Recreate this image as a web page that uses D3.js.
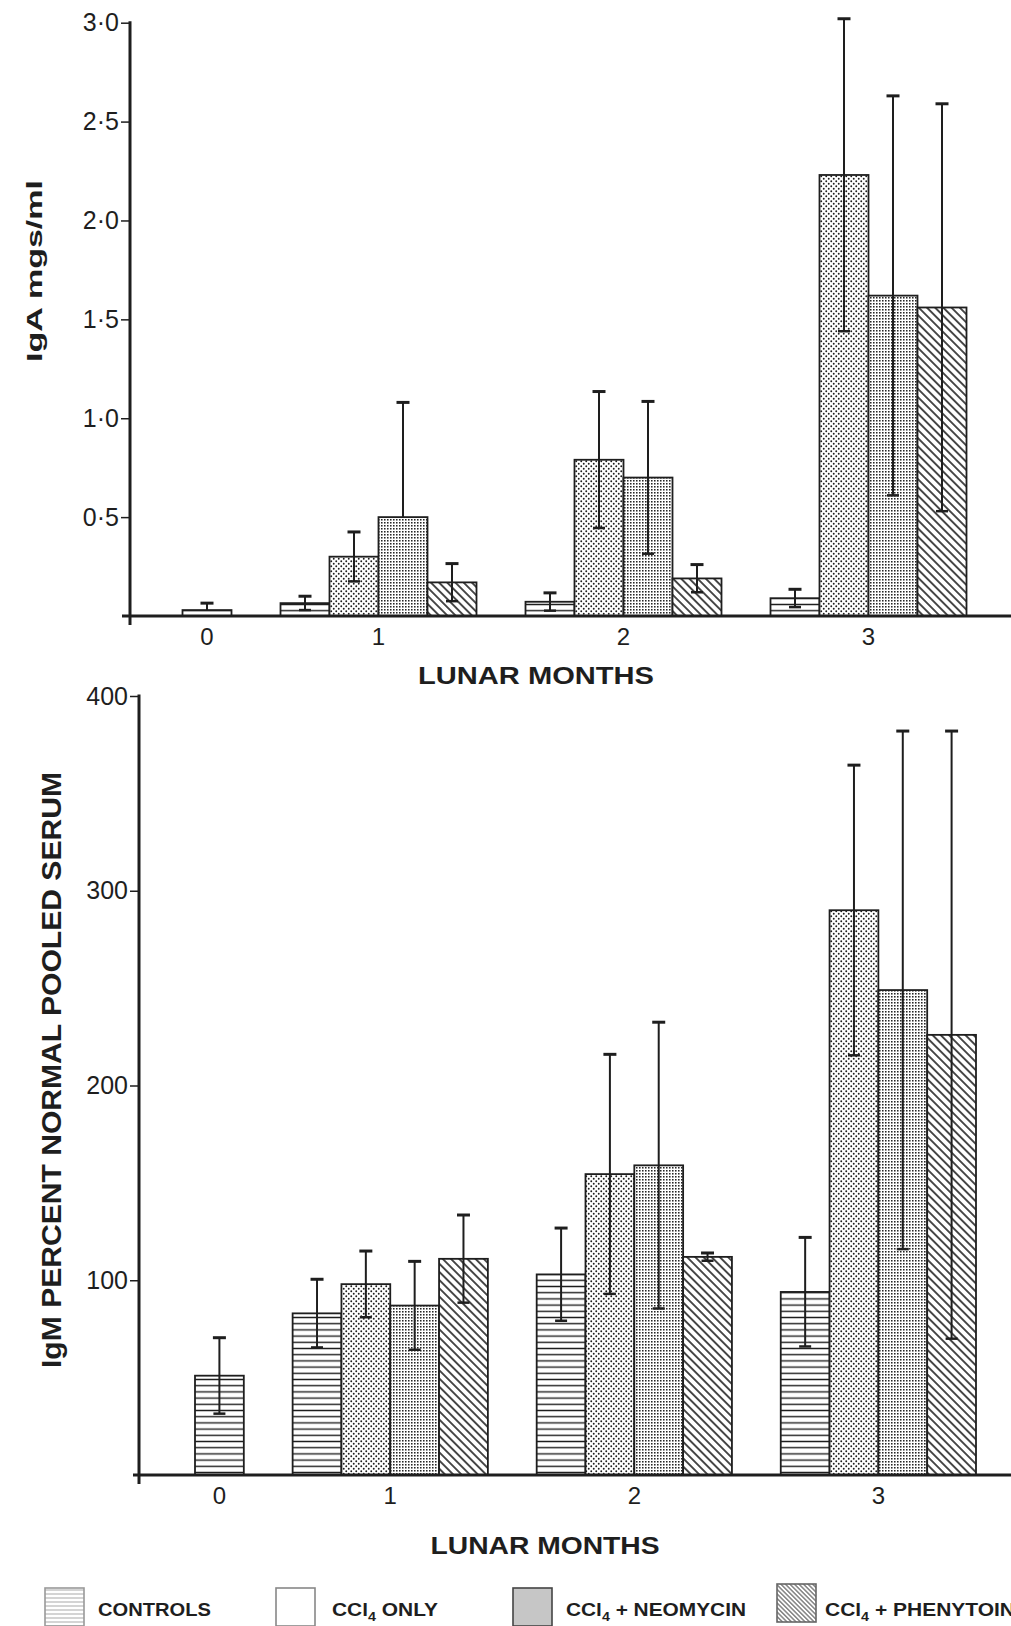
<!DOCTYPE html>
<html>
<head>
<meta charset="utf-8">
<script src="https://cdn.jsdelivr.net/npm/d3@7"></script>
<style>
  body { margin: 0; background: #fff; }
  svg { display: block; }
  text { font-family: "Liberation Sans", Arial, Helvetica, sans-serif; fill: #1e1e1e; }
</style>
</head>
<body>
<svg id="chart" width="1011" height="1626"></svg>
<script>
// ---- data ----
const months = ["0", "1", "2", "3"];
const seriesKeys = ["controls", "ccl4", "neomycin", "phenytoin"];

// Serum IgA (mg/ml): group means and standard deviations by lunar month
const igaControls    = [0.03, 0.065, 0.072, 0.09];
const igaControlsSD  = [0.035, 0.035, 0.045, 0.045];
const igaCcl4        = [null, 0.30, 0.79, 2.23];
const igaCcl4SD      = [null, 0.125, 0.345, 0.79];
const igaNeomycin    = [null, 0.50, 0.70, 1.62];
const igaNeomycinSD  = [null, 0.58, 0.385, 1.01];
const igaPhenytoin   = [null, 0.17, 0.19, 1.56];
const igaPhenytoinSD = [null, 0.095, 0.07, 1.03];

// Serum IgM (percent of normal pooled serum)
const igmControls    = [51, 83, 103, 94];
const igmControlsSD  = [19.5, 17.5, 23.8, 28];
const igmCcl4        = [null, 98, 154.5, 290];
const igmCcl4SD      = [null, 17, 61.5, 74.5];
const igmNeomycin    = [null, 87, 159, 249];
const igmNeomycinSD  = [null, 22.7, 73.5, 133];
const igmPhenytoin   = [null, 111, 112, 226];
const igmPhenytoinSD = [null, 22.5, 2, 156];

const igaTicks = [0.5, 1.0, 1.5, 2.0, 2.5, 3.0];
const igmTicks = [100, 200, 300, 400];

const INK = "#1e1e1e";
const svg = d3.select("#chart");

// ---- fill patterns ----
const defs = svg.append("defs");
function hRules(id, h, sw, col) {
  const p = defs.append("pattern").attr("id", id).attr("patternUnits", "userSpaceOnUse")
    .attr("width", 8).attr("height", h);
  p.append("rect").attr("width", 8).attr("height", h).attr("fill", "#fff");
  p.append("line").attr("x1", 0).attr("x2", 8).attr("y1", h / 2).attr("y2", h / 2)
    .attr("stroke", col).attr("stroke-width", sw);
}
function dots(id, s, r, col) {
  const p = defs.append("pattern").attr("id", id).attr("patternUnits", "userSpaceOnUse")
    .attr("width", s).attr("height", s);
  p.append("rect").attr("width", s).attr("height", s).attr("fill", "#fff");
  p.append("circle").attr("cx", s / 4).attr("cy", s / 4).attr("r", r).attr("fill", col);
  p.append("circle").attr("cx", 3 * s / 4).attr("cy", 3 * s / 4).attr("r", r).attr("fill", col);
}
function mesh(id, s, d, col) {
  const p = defs.append("pattern").attr("id", id).attr("patternUnits", "userSpaceOnUse")
    .attr("width", s).attr("height", s);
  p.append("rect").attr("width", s).attr("height", s).attr("fill", "#fff");
  p.append("rect").attr("width", d).attr("height", d).attr("fill", col);
}
function hatch(id, s, sw, col) {
  const p = defs.append("pattern").attr("id", id).attr("patternUnits", "userSpaceOnUse")
    .attr("width", s).attr("height", 20).attr("patternTransform", "rotate(-45)");
  p.append("rect").attr("width", s).attr("height", 20).attr("fill", "#fff");
  p.append("line").attr("x1", s / 2).attr("x2", s / 2).attr("y1", 0).attr("y2", 20)
    .attr("stroke", col).attr("stroke-width", sw);
}
hRules("pat-controls", 6.2, 1.4, INK);
dots("pat-ccl4", 5, 0.95, INK);
mesh("pat-neomycin", 3, 1.55, "#262626");
hatch("pat-phenytoin", 5.8, 1.6, INK);
// lighter versions for the key
hRules("key-controls", 4, 1, "#aaa");
hatch("key-phenytoin", 3.2, 1.1, "#555");

// ---- layout of bar slots: one slot per bar, one empty slot between months ----
function buildBars(means, sds) {
  const bars = [], groups = [];
  let slot = 0;
  months.forEach((m, mi) => {
    if (mi > 0) slot += 1;
    const first = slot;
    seriesKeys.forEach((k, si) => {
      const v = means[si][mi];
      if (v == null) return;
      bars.push({ month: m, key: k, value: v, sd: sds[si][mi], slot: slot });
      slot += 1;
    });
    groups.push({ month: m, first: first, last: slot - 1 });
  });
  return { bars, groups, nSlots: slot };
}

function drawPanel(cfg) {
  const { bars, groups, nSlots } = buildBars(cfg.means, cfg.sds);
  const g = svg.append("g");
  const y = d3.scaleLinear().domain([0, cfg.max]).range([cfg.y0, cfg.yTop]);
  const x = d3.scaleBand().domain(d3.range(nSlots)).range(cfg.slotRange).padding(0);
  const bw = x.bandwidth();

  // bars
  g.selectAll("rect.bar").data(bars).join("rect")
    .attr("class", "bar")
    .attr("x", d => x(d.slot))
    .attr("y", d => y(d.value))
    .attr("width", bw)
    .attr("height", d => y(0) - y(d.value))
    .attr("fill", d => `url(#pat-${d.key})`)
    .attr("stroke", INK).attr("stroke-width", 1.8);

  // error bars (the lower arm is left out where it would cross zero)
  const eb = g.selectAll("g.err").data(bars).join("g").attr("class", "err")
    .attr("transform", d => `translate(${x(d.slot) + bw / 2},0)`);
  eb.append("line")
    .attr("y1", d => y(d.value + d.sd))
    .attr("y2", d => d.value - d.sd > 0 ? y(d.value - d.sd) : y(d.value))
    .attr("stroke", INK).attr("stroke-width", 2);
  eb.append("line")
    .attr("x1", -6.5).attr("x2", 6.5)
    .attr("y1", d => y(d.value + d.sd)).attr("y2", d => y(d.value + d.sd))
    .attr("stroke", INK).attr("stroke-width", 3);
  eb.filter(d => d.value - d.sd > 0).append("line")
    .attr("x1", -6).attr("x2", 6)
    .attr("y1", d => y(d.value - d.sd)).attr("y2", d => y(d.value - d.sd))
    .attr("stroke", INK).attr("stroke-width", 2.5);

  // baseline and vertical axis
  g.append("line").attr("x1", cfg.baseStart).attr("x2", 1011)
    .attr("y1", y(0)).attr("y2", y(0)).attr("stroke", INK).attr("stroke-width", 3);
  g.append("line").attr("x1", cfg.axisX).attr("x2", cfg.axisX)
    .attr("y1", y(cfg.max) - 1.5).attr("y2", y(0) + 9).attr("stroke", INK).attr("stroke-width", 3);

  const ax = g.append("g").attr("transform", `translate(${cfg.axisX - 1},0)`)
    .call(d3.axisLeft(y).tickValues(cfg.ticks).tickSize(8).tickPadding(2)
      .tickFormat(cfg.fmt));
  ax.select(".domain").remove();
  ax.selectAll(".tick line").attr("stroke", INK).attr("stroke-width", 1.5);
  ax.selectAll(".tick text").attr("font-size", cfg.tickFont).attr("fill", INK)
    .style("font-family", '"Liberation Sans", Arial, sans-serif');

  // month labels centred under each cluster
  g.selectAll("text.month").data(groups).join("text")
    .attr("class", "month")
    .attr("x", d => (x(d.first) + x(d.last) + bw) / 2)
    .attr("y", cfg.monthY)
    .attr("text-anchor", "middle")
    .attr("font-size", 24)
    .text(d => d.month);

  g.append("text").attr("x", cfg.titleX).attr("y", cfg.titleY)
    .attr("text-anchor", "middle").attr("font-size", 24).attr("font-weight", "bold")
    .attr("textLength", cfg.titleLen).attr("lengthAdjust", "spacingAndGlyphs")
    .text("LUNAR  MONTHS");

  g.append("text")
    .attr("transform", `translate(${cfg.yLabelX},${cfg.yLabelY}) rotate(-90)`)
    .attr("text-anchor", "middle").attr("font-weight", "bold")
    .attr("font-size", cfg.yLabelFont)
    .attr("textLength", cfg.yLabelLen).attr("lengthAdjust", "spacingAndGlyphs")
    .text(cfg.yLabel);
}

const dotFmt = d => d3.format(".1f")(d).replace(".", "·");

drawPanel({
  means: [igaControls, igaCcl4, igaNeomycin, igaPhenytoin],
  sds: [igaControlsSD, igaCcl4SD, igaNeomycinSD, igaPhenytoinSD],
  max: 3, y0: 616, yTop: 22.7, slotRange: [182.5, 966.5],
  axisX: 130, baseStart: 122, ticks: igaTicks, fmt: dotFmt, tickFont: 25,
  monthY: 645, titleX: 536, titleY: 684, titleLen: 236,
  yLabel: "IgA  mgs/ml", yLabelX: 42, yLabelY: 271, yLabelFont: 22, yLabelLen: 182
});

drawPanel({
  means: [igmControls, igmCcl4, igmNeomycin, igmPhenytoin],
  sds: [igmControlsSD, igmCcl4SD, igmNeomycinSD, igmPhenytoinSD],
  max: 400, y0: 1475, yTop: 696, slotRange: [195, 976],
  axisX: 139, baseStart: 133, ticks: igmTicks, fmt: d3.format("d"), tickFont: 25,
  monthY: 1504, titleX: 545, titleY: 1554, titleLen: 229,
  yLabel: "IgM PERCENT NORMAL POOLED SERUM", yLabelX: 61, yLabelY: 1070, yLabelFont: 28, yLabelLen: 596
});

// ---- key ----
const keyItems = [
  { key: "controls", x: 45, text: ["CONTROLS"], tx: 98, len: 113, fill: "url(#key-controls)", stroke: "#999" },
  { key: "ccl4", x: 276, text: ["CCl", "4", " ONLY"], tx: 332, len: 106, fill: "#fff", stroke: "#888" },
  { key: "neomycin", x: 513, text: ["CCl", "4", " + NEOMYCIN"], tx: 566, len: 180, fill: "#c6c6c6", stroke: "#444" },
  { key: "phenytoin", x: 777, text: ["CCl", "4", " + PHENYTOIN"], tx: 825, len: 190, fill: "url(#key-phenytoin)", stroke: "#666" }
];
const key = svg.append("g");
key.selectAll("rect").data(keyItems).join("rect")
  .attr("x", d => d.x).attr("y", d => d.key === "phenytoin" ? 1584 : 1588)
  .attr("width", 39).attr("height", 38)
  .attr("fill", d => d.fill).attr("stroke", d => d.stroke).attr("stroke-width", 1.6);
const kt = key.selectAll("text").data(keyItems).join("text")
  .attr("x", d => d.tx).attr("y", 1616)
  .attr("font-size", 19).attr("font-weight", "bold")
  .attr("textLength", d => d.len).attr("lengthAdjust", "spacingAndGlyphs");
kt.each(function (d) {
  const t = d3.select(this);
  t.append("tspan").text(d.text[0]);
  if (d.text.length > 1) {
    t.append("tspan").attr("dy", 5).attr("font-size", 13).text(d.text[1]);
    t.append("tspan").attr("dy", -5).text(d.text[2]);
  }
});
</script>
</body>
</html>
